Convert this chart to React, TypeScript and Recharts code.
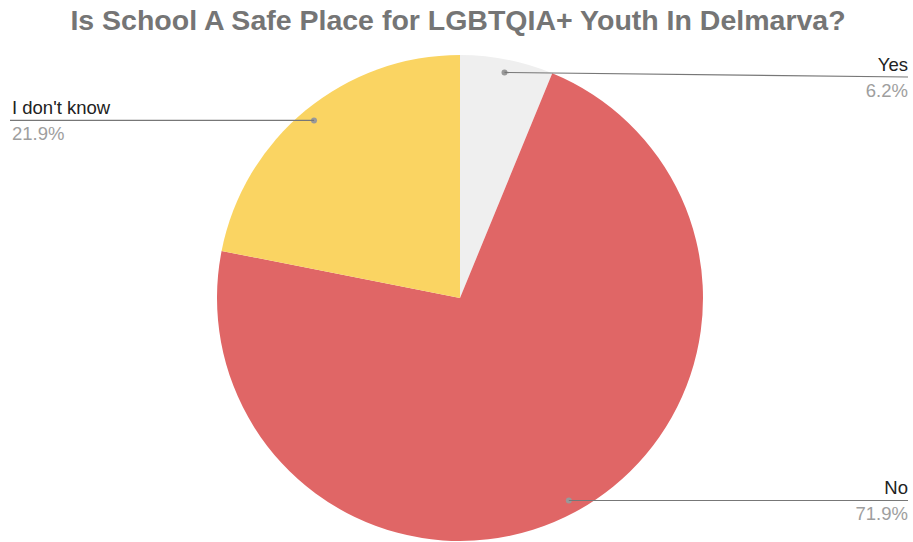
import React from 'react';
import { PieChart, Pie, Cell } from 'recharts';

const categories = ['Yes', 'No', "I don't know"];
const shares = [6.2, 71.9, 21.9];
const colors = ['#efefef', '#e06666', '#fad462'];

const data = categories.map((name, i) => ({ name, value: shares[i] }));

const RADIAN = Math.PI / 180;

const renderLabel = (props: any) => {
  const { cx, cy, midAngle, outerRadius, name, value } = props;
  const r = outerRadius * 0.946;
  const dx = cx + r * Math.cos(-midAngle * RADIAN);
  const dy = cy + r * Math.sin(-midAngle * RADIAN);
  const right = dx >= cx;
  const endX = right ? 908 : 10;
  const lineY = Math.max(dy, 77);
  const textX = right ? 908 : 12;
  const anchor = right ? 'end' : 'start';
  return (
    <g>
      <circle cx={dx} cy={dy} r={3} fill="#999999" />
      <line x1={dx} y1={dy} x2={endX} y2={lineY} stroke="#777777" strokeWidth={1.2} />
      <text x={textX} y={lineY - 6} textAnchor={anchor} fill="#222222" fontSize={18.5}>
        {name}
      </text>
      <text x={textX} y={lineY + 20} textAnchor={anchor} fill="#9e9e9e" fontSize={18.5}>
        {value.toFixed(1)}%
      </text>
    </g>
  );
};

const App: React.FC = () => {
  return (
    <div
      style={{
        position: 'absolute',
        left: 0,
        top: 0,
        width: 913,
        height: 542,
        background: '#ffffff',
        fontFamily: '"Liberation Sans", Arial, sans-serif',
      }}
    >
      <PieChart width={913} height={542} margin={{ top: 0, right: 0, bottom: 0, left: 0 }}>
        <text
          x={458}
          y={30}
          textAnchor="middle"
          fill="#757575"
          fontSize={28.5}
          fontWeight="bold"
        >
          Is School A Safe Place for LGBTQIA+ Youth In Delmarva?
        </text>
        <Pie
          data={data}
          dataKey="value"
          nameKey="name"
          cx={460}
          cy={298}
          outerRadius={243}
          startAngle={90}
          endAngle={-270}
          stroke="none"
          label={renderLabel}
          labelLine={false}
          isAnimationActive={false}
        >
          {data.map((d, i) => (
            <Cell key={d.name} fill={colors[i]} />
          ))}
        </Pie>
      </PieChart>
    </div>
  );
};

export default App;
